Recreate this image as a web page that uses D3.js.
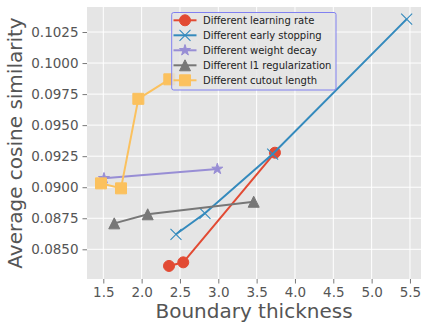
<!DOCTYPE html>
<html><head><meta charset="utf-8">
<script src="https://cdn.jsdelivr.net/npm/d3@7"></script>
<style>body{margin:0;background:#fff}svg{display:block}text{font-family:"DejaVu Sans",sans-serif}</style>
</head><body>
<svg id="c" width="428" height="330"></svg>
<script>
const seriesNames = ["Different learning rate","Different early stopping","Different weight decay","Different l1 regularization","Different cutout length"];
const seriesColors = ["#E24A33","#348ABD","#988ED5","#777777","#FBC15E"];
const seriesMarkers = ["circle","x","star","triangle","square"];
const lrX = [2.357, 2.543, 3.739];
const lrY = [0.08366, 0.08395, 0.09278];
const esX = [2.448, 2.826, 3.709, 5.457];
const esY = [0.08621, 0.0879, 0.09267, 0.10354];
const wdX = [1.509, 2.987];
const wdY = [0.09072, 0.09147];
const l1X = [1.643, 2.079, 3.462];
const l1Y = [0.08709, 0.08782, 0.08883];
const coX = [1.470, 1.731, 1.957, 2.361];
const coY = [0.09031, 0.08991, 0.09712, 0.09869];
const xTicks = [1.5,2.0,2.5,3.0,3.5,4.0,4.5,5.0,5.5];
const yTicks = [0.085,0.0875,0.09,0.0925,0.095,0.0975,0.1,0.1025];
const xLabel = "Boundary thickness";
const yLabel = "Average cosine similarity";

const seriesX = [lrX, esX, wdX, l1X, coX];
const seriesY = [lrY, esY, wdY, l1Y, coY];

const L=87, R=421, T=7, B=279;
const svg = d3.select("#c");
const x = d3.scaleLinear().domain([1.2874, 5.644]).range([L,R]);
const y = d3.scaleLinear().domain([0.082608, 0.104515]).range([B,T]);

svg.append("rect").attr("x",L).attr("y",T).attr("width",R-L).attr("height",B-T).attr("fill","#E5E5E5");
// grid
svg.append("g").selectAll("line").data(xTicks).join("line")
  .attr("x1",d=>x(d)).attr("x2",d=>x(d)).attr("y1",T).attr("y2",B)
  .attr("stroke","#fff").attr("stroke-width",1);
svg.append("g").selectAll("line").data(yTicks).join("line")
  .attr("y1",d=>y(d)).attr("y2",d=>y(d)).attr("x1",L).attr("x2",R)
  .attr("stroke","#fff").attr("stroke-width",1);

const xAxis = d3.axisBottom(x).tickValues(xTicks).tickFormat(d3.format(".1f")).tickSize(4.5).tickPadding(4);
const yAxis = d3.axisLeft(y).tickValues(yTicks).tickFormat(d3.format(".4f")).tickSize(4.5).tickPadding(4);
const gx = svg.append("g").attr("transform",`translate(0,${B})`).call(xAxis);
const gy = svg.append("g").attr("transform",`translate(${L},0)`).call(yAxis);
[gx,gy].forEach(g=>{
  g.select(".domain").remove();
  g.selectAll(".tick line").attr("stroke","#555555").attr("stroke-width",0.8);
  g.selectAll(".tick text").attr("fill","#555555").style("font-size","13.5px").style("font-family","DejaVu Sans");
});

svg.append("text").attr("x",(L+R)/2).attr("y",318).attr("text-anchor","middle")
  .attr("fill","#555555").style("font-size","20px").text(xLabel);
svg.append("text").attr("transform",`translate(22,${(T+B)/2}) rotate(-90)`).attr("text-anchor","middle")
  .attr("fill","#555555").style("font-size","20px").text(yLabel);

const ms = 11;
function markerPath(type, s){
  const h=s/2;
  if(type==="circle") return d3.symbol(d3.symbolCircle, Math.PI*h*h)();
  if(type==="square") return `M${-h},${-h}H${h}V${h}H${-h}Z`;
  if(type==="triangle") return `M0,${-h}L${h},${h}L${-h},${h}Z`;
  if(type==="x") return `M${-h},${-h}L${h},${h}M${-h},${h}L${h},${-h}`;
  if(type==="star"){
    let p=[];
    for(let i=0;i<10;i++){
      const r = i%2===0 ? h*1.05 : h*1.05*0.381966;
      const a = -Math.PI/2 + i*Math.PI/5;
      p.push([r*Math.cos(a), r*Math.sin(a)]);
    }
    return "M"+p.map(q=>q.join(",")).join("L")+"Z";
  }
}
function drawMarker(g, type, color, cx, cy){
  const p = g.append("path").attr("d", markerPath(type, ms)).attr("transform",`translate(${cx},${cy})`);
  if(type==="x") p.attr("fill","none").attr("stroke",color).attr("stroke-width",1.1);
  else p.attr("fill",color).attr("stroke",color).attr("stroke-width",1);
}

const line = d3.line();
seriesNames.forEach((n,i)=>{
  const g = svg.append("g");
  const pts = seriesX[i].map((v,j)=>[x(v), y(seriesY[i][j])]);
  g.append("path").attr("d",line(pts)).attr("fill","none").attr("stroke",seriesColors[i]).attr("stroke-width",2);
  pts.forEach(p=>drawMarker(g, seriesMarkers[i], seriesColors[i], p[0], p[1]));
});

// legend
const lg = svg.append("g");
lg.append("rect").attr("x",171.7).attr("y",12.5).attr("width",164.3).attr("height",77.5).attr("rx",2)
  .attr("fill","#E5E5E5").attr("fill-opacity",0.8).attr("stroke","#8080F0").attr("stroke-width",1);
seriesNames.forEach((n,i)=>{
  const cy = 20.3 + i*15;
  lg.append("line").attr("x1",173.5).attr("x2",196.5).attr("y1",cy).attr("y2",cy).attr("stroke",seriesColors[i]).attr("stroke-width",2);
  drawMarker(lg, seriesMarkers[i], seriesColors[i], 185, cy);
  lg.append("text").attr("x",203).attr("y",cy).attr("dy","0.35em").attr("fill","#222").style("font-size","10px").text(n);
});
</script>
</body></html>
